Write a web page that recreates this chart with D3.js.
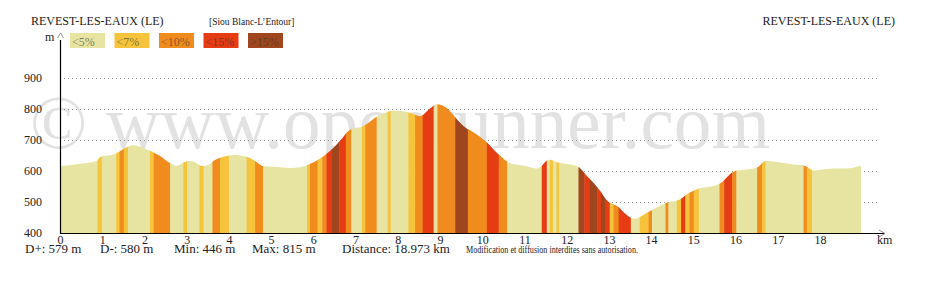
<!DOCTYPE html>
<html>
<head>
<meta charset="utf-8">
<script src="https://cdn.jsdelivr.net/npm/d3@7"></script>
<style>
  html, body { margin: 0; padding: 0; background: #fff; }
  svg { display: block; font-family: "Liberation Serif", "Times New Roman", serif; }
  .axis text { font-family: "Liberation Serif", "Times New Roman", serif; fill: #222; }
</style>
</head>
<body>
<svg id="chart" width="931" height="286"></svg>
<script>
// slope classes (legend)
const gradeLabels = ['<5%', '<7%', '<10%', '<15%', '>15%'];
const gradeColors = ['#e6e4a0', '#f5c33c', '#f08c1e', '#e63c14', '#a0461e'];

// elevation profile [km, m]
const profile = [
  [0, 615], [0.4, 622], [0.87, 632], [0.95, 645], [1.30, 655], [1.62, 679], [1.72, 683],
  [2.13, 665], [2.35, 650], [2.61, 625], [2.75, 617], [3.04, 632], [3.20, 628], [3.36, 616],
  [3.52, 620], [3.64, 633], [3.85, 645], [4.11, 652], [4.42, 646], [4.62, 632], [4.82, 615],
  [5.05, 614], [5.45, 610], [5.70, 612], [5.88, 620], [6.16, 640], [6.40, 665], [6.65, 700],
  [6.87, 733], [7.19, 745], [7.50, 775], [7.70, 788], [7.90, 794], [8.10, 793], [8.29, 788],
  [8.53, 777], [8.75, 800], [8.93, 815], [9.16, 803], [9.40, 767], [9.60, 740], [9.80, 724],
  [10.11, 692], [10.43, 648], [10.66, 625], [11.00, 617], [11.30, 608], [11.40, 615], [11.50, 630],
  [11.60, 636], [11.77, 628], [12.24, 616], [12.48, 584], [12.80, 535], [12.95, 506], [13.19, 487],
  [13.51, 450], [13.59, 446], [13.98, 471], [14.38, 498], [14.69, 509], [14.85, 525], [15.09, 541],
  [15.60, 557], [15.99, 600], [16.27, 605], [16.51, 611], [16.71, 632], [16.98, 629], [17.38, 621],
  [17.62, 618], [17.85, 602], [18.33, 608], [18.60, 608], [18.973, 617]
];

// slope bands [from km, to km, grade index]
const bands = [
  [0, 0.89, 0], [0.89, 0.99, 1], [0.99, 1.33, 0], [1.33, 1.41, 1], [1.41, 1.51, 2], [1.51, 1.61, 1],
  [1.61, 2.13, 0], [2.13, 2.22, 1], [2.22, 2.61, 2], [2.61, 2.92, 0], [2.92, 3.01, 1], [3.01, 3.30, 0],
  [3.30, 3.40, 1], [3.40, 3.61, 0], [3.61, 3.79, 2], [3.79, 4.00, 1], [4.00, 4.42, 0], [4.42, 4.62, 1],
  [4.62, 4.81, 2], [4.81, 5.85, 0], [5.85, 5.92, 1], [5.92, 6.10, 2], [6.10, 6.21, 1], [6.21, 6.31, 2],
  [6.31, 6.43, 3], [6.43, 6.61, 4], [6.61, 6.77, 3], [6.77, 6.90, 2], [6.90, 7.15, 0], [7.15, 7.23, 1],
  [7.23, 7.50, 2], [7.50, 7.76, 0], [7.76, 7.83, 1], [7.83, 8.25, 0], [8.25, 8.41, 1], [8.41, 8.59, 2],
  [8.59, 8.85, 3], [8.85, 8.94, 0], [8.94, 9.36, 2], [9.36, 9.66, 4], [9.66, 10.11, 2], [10.11, 10.39, 3],
  [10.39, 10.59, 2], [10.59, 11.41, 0], [11.41, 11.53, 3], [11.53, 11.60, 0], [11.60, 11.68, 1],
  [11.68, 11.76, 0], [11.76, 11.82, 1], [11.82, 12.28, 0], [12.28, 12.42, 4], [12.42, 12.55, 3],
  [12.55, 12.72, 4], [12.72, 12.81, 3], [12.81, 12.92, 4], [12.92, 13.02, 3], [13.02, 13.11, 1],
  [13.11, 13.23, 2], [13.23, 13.52, 3], [13.52, 13.73, 0], [13.73, 13.94, 1], [13.94, 14.02, 2],
  [14.02, 14.34, 0], [14.34, 14.41, 2], [14.41, 14.61, 0], [14.61, 14.71, 1], [14.71, 14.81, 3],
  [14.81, 14.91, 1], [14.91, 15.01, 2], [15.01, 15.13, 1], [15.13, 15.62, 0], [15.62, 15.73, 2],
  [15.73, 15.92, 3], [15.92, 16.02, 2], [16.02, 16.51, 0], [16.51, 16.63, 2], [16.63, 16.71, 1],
  [16.71, 17.61, 0], [17.61, 17.69, 2], [17.69, 17.81, 1], [17.81, 18.973, 0]
];

const kmTicks = d3.range(0, 19);
const eleTicks = [400, 500, 600, 700, 800, 900];
const gridTicks = [500, 600, 700, 800, 900];
const stats = ['D+: 579 m', 'D-: 580 m', 'Min: 446 m', 'Max: 815 m', 'Distance: 18.973 km'];
const statX = [25, 100, 174, 252, 342];

const svg = d3.select('#chart');
const x = d3.scaleLinear().domain([0, 18]).range([60, 820]);
const y = d3.scaleLinear().domain([400, 900]).range([233, 78]);

// watermark (behind everything)
svg.append('text')
  .attr('x', 30).attr('y', 148)
  .attr('font-size', 76).attr('fill', '#e2e2e2')
  .attr('textLength', 740).attr('lengthAdjust', 'spacingAndGlyphs')
  .text('\u00a9 www.openrunner.com');

// dotted grid
svg.append('g').selectAll('line').data(gridTicks).join('line')
  .attr('x1', 60).attr('x2', 878)
  .attr('y1', d => y(d) + 0.5).attr('y2', d => y(d) + 0.5)
  .attr('stroke', '#9a9a9a').attr('stroke-width', 1).attr('stroke-dasharray', '1,3');

// profile: bands clipped by the elevation area
const area = d3.area()
  .x(d => x(d[0])).y0(y(400)).y1(d => y(d[1]))
  .curve(d3.curveMonotoneX);

svg.append('defs').append('clipPath').attr('id', 'prof-clip')
  .append('path').attr('d', area(profile));

svg.append('g').attr('clip-path', 'url(#prof-clip)')
  .selectAll('rect').data(bands).join('rect')
  .attr('x', d => x(d[0]))
  .attr('width', d => x(d[1]) - x(d[0]) + 0.4)
  .attr('y', y(900)).attr('height', y(400) - y(900))
  .attr('fill', d => gradeColors[d[2]]);

// axes lines + arrows
svg.append('line').attr('x1', 60).attr('x2', 884).attr('y1', 233.5).attr('y2', 233.5)
  .attr('stroke', '#000').attr('stroke-width', 1.2);
svg.append('path').attr('d', 'M879,230 L885,233.5 L879,237').attr('fill', 'none')
  .attr('stroke', '#777').attr('stroke-width', 0.8);
svg.append('line').attr('x1', 60.5).attr('x2', 60.5).attr('y1', 40).attr('y2', 233.5)
  .attr('stroke', '#000').attr('stroke-width', 1.2);
svg.append('path').attr('d', 'M57.5,38 L60.5,33 L63.5,38').attr('fill', 'none')
  .attr('stroke', '#777').attr('stroke-width', 0.8);

const xAxis = svg.append('g').attr('class', 'axis').attr('transform', 'translate(0,233)')
  .call(d3.axisBottom(x).tickValues(kmTicks).tickSize(0).tickPadding(2).tickFormat(d3.format('d')));
xAxis.select('.domain').remove();
xAxis.selectAll('text').attr('font-size', 12);

const yAxis = svg.append('g').attr('class', 'axis').attr('transform', 'translate(60,0)')
  .call(d3.axisLeft(y).tickValues(eleTicks).tickSize(0).tickPadding(18).tickFormat(d3.format('d')));
yAxis.select('.domain').remove();
yAxis.selectAll('text').attr('font-size', 12);

svg.append('text').attr('x', 877).attr('y', 244).attr('font-size', 12).attr('fill', '#222').text('km');
svg.append('text').attr('x', 45).attr('y', 41).attr('font-size', 12).attr('fill', '#222').text('m');

// titles
svg.append('text').attr('x', 31).attr('y', 25).attr('font-size', 12).attr('fill', '#222')
  .text('REVEST-LES-EAUX (LE)');
svg.append('text').attr('x', 209).attr('y', 25).attr('font-size', 9.5).attr('fill', '#222')
  .text('[Siou Blanc-L\u2019Entour]');
svg.append('text').attr('x', 895).attr('y', 25).attr('font-size', 12).attr('fill', '#222')
  .attr('text-anchor', 'end').text('REVEST-LES-EAUX (LE)');

// legend
const lg = svg.append('g').selectAll('g').data(gradeLabels).join('g')
  .attr('transform', (d, i) => `translate(${70 + i * 44.5},33)`);
lg.append('rect').attr('width', 35).attr('height', 15)
  .attr('fill', (d, i) => gradeColors[i]);
lg.append('text').attr('x', 2).attr('y', 12.5).attr('font-size', 12)
  .attr('fill', '#333').attr('fill-opacity', 0.6).text(d => d);

// stats
svg.append('g').selectAll('text').data(stats).join('text')
  .attr('x', (d, i) => statX[i]).attr('y', 253).attr('font-size', 13).attr('fill', '#222')
  .text(d => d);
svg.append('text').attr('x', 466).attr('y', 253).attr('font-size', 9.5).attr('fill', '#222')
  .attr('textLength', 172).attr('lengthAdjust', 'spacingAndGlyphs')
  .text('Modification et diffusion interdites sans autorisation.');
</script>
</body>
</html>
